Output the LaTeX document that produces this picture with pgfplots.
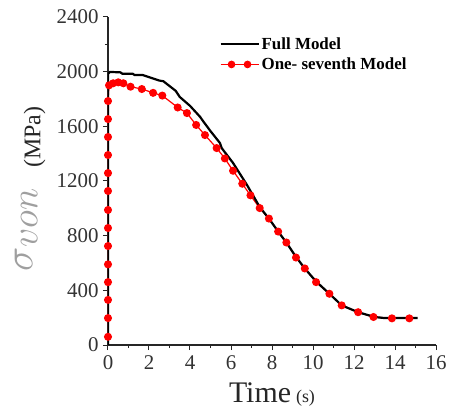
\RequirePackage{fix-cm}
\documentclass[border=0pt]{standalone}
\usepackage{fontspec}
\setmainfont{Liberation Serif}
\usepackage{pgfplots}
\pgfplotsset{compat=1.18}
\begin{document}
\begin{tikzpicture}
\path[use as bounding box] (-108bp,-72bp) rectangle (344bp,345bp);
\begin{axis}[
  scale only axis, width=328bp, height=328bp,
  at={(0,0)}, anchor=south west,
  xmin=0, xmax=16, ymin=0, ymax=2400,
  xtick={0,2,...,16}, ytick={0,400,...,2400},
  minor x tick num=1, minor y tick num=1,
  axis x line*=bottom, axis y line*=left,
  axis line style={black!85, line width=1.3bp, -},
  tick align=outside,
  major tick length=5bp, minor tick length=3bp,
  tick style={black!85, line width=1bp},
  /pgf/number format/assume math mode=true,
  /pgf/number format/1000 sep={},
  ticklabel style={font=\fontsize{21}{21}\selectfont, text=black!80},
  xticklabel style={yshift=-2bp},
  yticklabel style={xshift=-1bp},
  xlabel={{\fontsize{30}{30}\selectfont Time}\hspace{5bp}{\fontsize{18}{18}\selectfont (s)}},
  xlabel style={at={(axis description cs:0.5,-0.115)}, anchor=north, text=black!85, inner sep=0pt},
  ylabel={{\color{gray!75}\fontsize{41}{41}\selectfont$\sigma$\raisebox{-5bp}{\fontsize{38}{38}\selectfont$von$}}\hspace{21bp}\raisebox{-8bp}{\fontsize{24}{24}\selectfont (MPa)}},
  ylabel style={at={(axis description cs:-0.19,0.475)}, anchor=south, text=black!85, inner sep=0pt},
  legend style={draw=none, fill=none, at={(rel axis cs:0.33,0.95)}, anchor=north west,
    font=\fontsize{17}{19}\selectfont\bfseries, row sep=3bp},
  legend cell align=left,
  reverse legend,
]
\addplot[red, line width=1.2bp, mark=*, mark size=3.4bp, mark options={fill=red, draw=red},
  legend image code/.code={
    \draw[red, line width=1.2bp] (0bp,0bp) -- (38bp,0bp);
    \fill[red] (11bp,0bp) circle (3.2bp);
    \fill[red] (27bp,0bp) circle (3.2bp);}]
coordinates {
(0,60)(0,197)(0,330)(0,460)(0,590)(0,724)(0,856)(0,988)(0,1127)(0,1258)(0,1390)(0,1522)(0,1653)(0,1785)
(0.05,1900)(0.25,1915)(0.5,1922)(0.75,1915)(1.1,1890)(1.65,1873)(2.2,1845)(2.65,1825)(3.4,1738)(3.85,1697)
(4.3,1610)(4.73,1536)(5.3,1441)(5.7,1365)(6.1,1275)(6.55,1180)(6.95,1095)(7.4,1002)(7.85,925)(8.3,830)
(8.7,750)(9.17,640)(9.6,560)(10.15,460)(10.8,375)(11.4,290)(12.2,240)(12.95,205)(13.85,195)(14.7,195)
};
\addlegendentry{One- seventh Model}
\addplot[black, line width=2.2bp, mark=none,
  legend image code/.code={\draw[black, line width=2.2bp] (0bp,0bp) -- (38bp,0bp);}]
coordinates {
(0,0)(0,1985)(0.1,1998)(0.6,1995)(0.7,1985)(1.2,1985)(1.3,1975)(1.7,1975)(2.0,1960)(2.5,1935)(2.7,1930)
(3.0,1895)(3.3,1860)(3.5,1815)(4.0,1750)(4.5,1668)(4.6,1646)(5.0,1565)(5.46,1478)(5.55,1440)(6.1,1332)
(6.78,1171)(7.4,1010)(7.9,915)(8.3,830)(8.7,750)(9.17,645)(9.6,560)(10.15,465)(10.8,375)(11.4,290)
(12.2,240)(13.0,205)(13.5,197)(14,197)(15.1,197)
};
\addlegendentry{Full Model}
\end{axis}
\end{tikzpicture}
\end{document}
